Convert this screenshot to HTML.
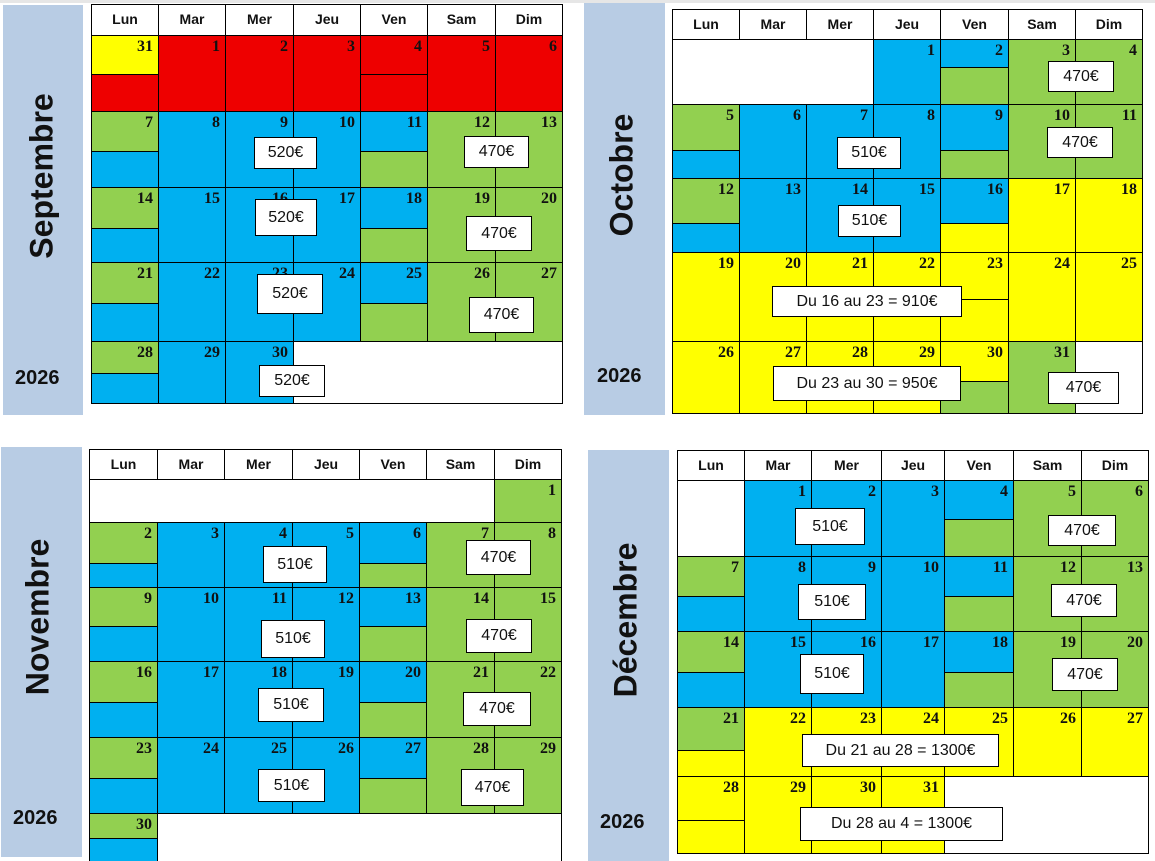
<!DOCTYPE html>
<html><head><meta charset="utf-8">
<style>
html,body{margin:0;padding:0;background:#fff;width:1155px;height:861px;overflow:hidden;position:relative;font-family:"Liberation Sans",sans-serif}
.a{position:absolute;box-sizing:border-box}
.c{position:absolute;box-sizing:border-box;border:1px solid #000}
.h{font-weight:bold;font-size:14px;text-align:center;color:#111;background:#fff}
.n{position:absolute;right:5px;top:2px;font:bold 16px "Liberation Serif",serif;color:#111}
.b{position:absolute;box-sizing:border-box;border:1px solid #000;background:#fff;font-size:16px;display:flex;align-items:center;justify-content:center;color:#111;white-space:nowrap}
.p{position:absolute;background:#B8CCE4}
.m{position:absolute;font-weight:bold;font-size:32px;color:#111;transform:translate(-50%,-50%) rotate(-90deg);white-space:nowrap}
.y{position:absolute;font-weight:bold;font-size:20px;color:#111}
</style></head><body>
<div class="a" style="left:0;top:0;width:1155px;height:3px;background:#e6e6e6"></div>
<script>
var R='#EE0000',Y='#FFFF00',B='#00B0F0',G='#92D050',W='#FFFFFF';
var out='';
function cal(o){
 out+='<div class="p" style="left:'+o.p[0]+'px;top:'+o.p[1]+'px;width:'+(o.p[2]-o.p[0])+'px;height:'+(o.p[3]-o.p[1])+'px"></div>';
 out+='<div class="m" style="left:'+o.mx+'px;top:'+o.my+'px">'+o.name+'</div>';
 out+='<div class="y" style="left:'+o.yx+'px;top:'+o.yy+'px">2026</div>';
 var X=o.x,Yr=o.r,d=['Lun','Mar','Mer','Jeu','Ven','Sam','Dim'];
 for(var i=0;i<7;i++)out+='<div class="c h" style="left:'+X[i]+'px;top:'+Yr[0]+'px;width:'+(X[i+1]-X[i]+1)+'px;height:'+(Yr[1]-Yr[0]+1)+'px;line-height:'+(Yr[1]-Yr[0]-2)+'px">'+d[i]+'</div>';
 o.cells.forEach(function(e){
  var r=e[0],c=e[1],s=e[2],t=e[3],bo=e[4],num=e[5];
  var l=X[c],w=X[c+s]-X[c]+1,tp=Yr[r],h=Yr[r+1]-Yr[r]+1;
  var inner='';
  if(bo){var sp=o.sp[r-1]-tp;inner+='<div class="a" style="left:0;right:0;top:'+sp+'px;bottom:0;background:'+bo+';border-top:1px solid #000"></div>';}
  if(num!==undefined&&num!=='')inner+='<div class="n">'+num+'</div>';
  out+='<div class="c" style="left:'+l+'px;top:'+tp+'px;width:'+w+'px;height:'+h+'px;background:'+t+'">'+inner+'</div>';
 });
 o.boxes.forEach(function(b){out+='<div class="b" style="left:'+b[0]+'px;top:'+b[1]+'px;width:'+(b[2]-b[0])+'px;height:'+(b[3]-b[1])+'px">'+b[4]+'</div>';});
}
cal({name:'Septembre',p:[3,5,83,415],mx:42,my:176,yx:15,yy:367,
 x:[91,158,225,293,360,427,495,562],r:[4,35,111,187,262,341,403],sp:[73,150,227,302,372],
 cells:[[1,0,1,Y,R,31],[1,1,1,R,0,1],[1,2,1,R,0,2],[1,3,1,R,0,3],[1,4,1,R,R,4],[1,5,1,R,0,5],[1,6,1,R,0,6],
 [2,0,1,G,B,7],[2,1,1,B,0,8],[2,2,1,B,0,9],[2,3,1,B,0,10],[2,4,1,B,G,11],[2,5,1,G,0,12],[2,6,1,G,0,13],
 [3,0,1,G,B,14],[3,1,1,B,0,15],[3,2,1,B,0,16],[3,3,1,B,0,17],[3,4,1,B,G,18],[3,5,1,G,0,19],[3,6,1,G,0,20],
 [4,0,1,G,B,21],[4,1,1,B,0,22],[4,2,1,B,0,23],[4,3,1,B,0,24],[4,4,1,B,G,25],[4,5,1,G,0,26],[4,6,1,G,0,27],
 [5,0,1,G,B,28],[5,1,1,B,0,29],[5,2,1,B,0,30],[5,3,4,W,0,'']],
 boxes:[[254,137,317,169,'520€'],[464,136,529,168,'470€'],[255,199,317,236,'520€'],[466,216,532,251,'470€'],[257,274,323,314,'520€'],[469,297,534,333,'470€'],[259,365,325,397,'520€']]});
cal({name:'Octobre',p:[584,3,665,415],mx:622,my:175,yx:597,yy:365,
 x:[672,739,806,873,940,1008,1075,1142],r:[9,39,104,178,252,341,413],sp:[66,149,222,298,380],
 cells:[[1,0,3,W,0,''],[1,3,1,B,0,1],[1,4,1,B,G,2],[1,5,1,G,0,3],[1,6,1,G,0,4],
 [2,0,1,G,B,5],[2,1,1,B,0,6],[2,2,1,B,0,7],[2,3,1,B,0,8],[2,4,1,B,G,9],[2,5,1,G,0,10],[2,6,1,G,0,11],
 [3,0,1,G,B,12],[3,1,1,B,0,13],[3,2,1,B,0,14],[3,3,1,B,0,15],[3,4,1,B,Y,16],[3,5,1,Y,0,17],[3,6,1,Y,0,18],
 [4,0,1,Y,0,19],[4,1,1,Y,0,20],[4,2,1,Y,0,21],[4,3,1,Y,0,22],[4,4,1,Y,Y,23],[4,5,1,Y,0,24],[4,6,1,Y,0,25],
 [5,0,1,Y,0,26],[5,1,1,Y,0,27],[5,2,1,Y,0,28],[5,3,1,Y,0,29],[5,4,1,Y,G,30],[5,5,1,G,0,31],[5,6,1,W,0,'']],
 boxes:[[1048,61,1114,92,'470€'],[837,137,901,169,'510€'],[1047,127,1113,158,'470€'],[838,205,901,237,'510€'],[772,286,962,317,'Du 16 au 23 = 910€'],[773,366,961,401,'Du 23 au 30 = 950€'],[1048,372,1119,404,'470€']]});
cal({name:'Novembre',p:[1,447,82,857],mx:38,my:617,yx:13,yy:807,
 x:[89,157,224,292,359,426,494,561],r:[449,479,522,587,661,737,813,900],sp:[0,562,625,701,777,837],
 cells:[[1,0,6,W,0,''],[1,6,1,G,0,1],
 [2,0,1,G,B,2],[2,1,1,B,0,3],[2,2,1,B,0,4],[2,3,1,B,0,5],[2,4,1,B,G,6],[2,5,1,G,0,7],[2,6,1,G,0,8],
 [3,0,1,G,B,9],[3,1,1,B,0,10],[3,2,1,B,0,11],[3,3,1,B,0,12],[3,4,1,B,G,13],[3,5,1,G,0,14],[3,6,1,G,0,15],
 [4,0,1,G,B,16],[4,1,1,B,0,17],[4,2,1,B,0,18],[4,3,1,B,0,19],[4,4,1,B,G,20],[4,5,1,G,0,21],[4,6,1,G,0,22],
 [5,0,1,G,B,23],[5,1,1,B,0,24],[5,2,1,B,0,25],[5,3,1,B,0,26],[5,4,1,B,G,27],[5,5,1,G,0,28],[5,6,1,G,0,29],
 [6,0,1,G,B,30],[6,1,6,W,0,'']],
 boxes:[[263,546,327,583,'510€'],[466,540,531,575,'470€'],[261,620,325,658,'510€'],[466,619,532,653,'470€'],[258,688,324,722,'510€'],[463,692,531,726,'470€'],[258,769,325,802,'510€'],[461,769,524,806,'470€']]});
cal({name:'Décembre',p:[588,450,669,861],mx:626,my:620,yx:600,yy:811,
 x:[677,744,811,881,944,1013,1081,1148],r:[450,480,556,631,707,776,853],sp:[518,595,671,749,819],
 cells:[[1,0,1,W,0,''],[1,1,1,B,0,1],[1,2,1,B,0,2],[1,3,1,B,0,3],[1,4,1,B,G,4],[1,5,1,G,0,5],[1,6,1,G,0,6],
 [2,0,1,G,B,7],[2,1,1,B,0,8],[2,2,1,B,0,9],[2,3,1,B,0,10],[2,4,1,B,G,11],[2,5,1,G,0,12],[2,6,1,G,0,13],
 [3,0,1,G,B,14],[3,1,1,B,0,15],[3,2,1,B,0,16],[3,3,1,B,0,17],[3,4,1,B,G,18],[3,5,1,G,0,19],[3,6,1,G,0,20],
 [4,0,1,G,Y,21],[4,1,1,Y,0,22],[4,2,1,Y,0,23],[4,3,1,Y,0,24],[4,4,1,Y,0,25],[4,5,1,Y,0,26],[4,6,1,Y,0,27],
 [5,0,1,Y,Y,28],[5,1,1,Y,0,29],[5,2,1,Y,0,30],[5,3,1,Y,0,31],[5,4,3,W,0,'']],
 boxes:[[795,508,865,545,'510€'],[1048,515,1116,546,'470€'],[798,584,866,620,'510€'],[1051,584,1117,617,'470€'],[800,654,864,694,'510€'],[1052,658,1118,691,'470€'],[802,734,999,767,'Du 21 au 28 = 1300€'],[800,807,1003,841,'Du 28 au 4 = 1300€']]});
document.write(out);
</script>
</body></html>
